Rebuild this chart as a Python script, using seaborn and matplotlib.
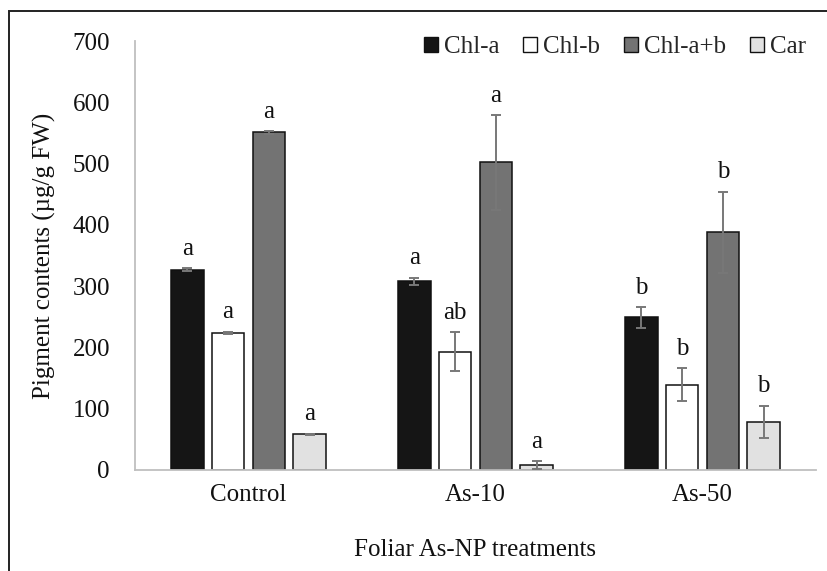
import matplotlib
matplotlib.use("Agg")
import matplotlib.pyplot as plt
import matplotlib.patches as mpatches
import seaborn as sns
import pandas as pd
import numpy as np

# ---- data ----
treatments = ["Control", "As-10", "As-50"]
pigments = ["Chl-a", "Chl-b", "Chl-a+b", "Car"]
chl_a = [327, 308, 249]
chl_b = [224, 193, 139]
chl_ab = [551, 502, 388]
car = [58, 8, 79]
err_chl_a = [2, 6, 17]
err_chl_b = [1.5, 32, 27]
err_chl_ab = [2, 77, 66]
err_car = [1.5, 6, 26]
letters_chl_a = ["a", "a", "b"]
letters_chl_b = ["a", "ab", "b"]
letters_chl_ab = ["a", "a", "b"]
letters_car = ["a", "a", "b"]
colors = ["#151515", "#ffffff", "#737373", "#e1e1e1"]
yticks = [0, 100, 200, 300, 400, 500, 600, 700]

values = [chl_a, chl_b, chl_ab, car]
errors = [err_chl_a, err_chl_b, err_chl_ab, err_car]
letters = [letters_chl_a, letters_chl_b, letters_chl_ab, letters_car]

rows = []
for p, v in zip(pigments, values):
    for t, val in zip(treatments, v):
        rows.append({"Treatment": t, "Pigment": p, "Value": val})
df = pd.DataFrame(rows)

sns.set_style("white")
plt.rcParams["font.family"] = ["Liberation Serif", "DejaVu Serif"]

FS = 18

fig = plt.figure(figsize=(8.28, 5.71), dpi=100)
ax = fig.add_axes([135 / 828, 1 - 470 / 571, (816 - 135) / 828, (470 - 41) / 571])

sns.barplot(data=df, x="Treatment", y="Value", hue="Pigment", order=treatments,
            hue_order=pigments, palette=colors, width=0.72, gap=0.2,
            errorbar=None, edgecolor="#111111", linewidth=1.1, ax=ax,
            saturation=1)

bar_containers = list(ax.containers)
# error bars & letters from bar containers
for ci, cont in enumerate(bar_containers):
    for bi, bar in enumerate(cont.patches):
        xc = bar.get_x() + bar.get_width() / 2
        h = bar.get_height()
        e = errors[ci][bi]
        ax.errorbar(xc, h, yerr=e, fmt="none", ecolor="#787878",
                    elinewidth=1.4, capsize=3.6, capthick=1.4, zorder=5)
        ax.annotate(letters[ci][bi], (xc, h + e), xytext=(0, 6),
                    textcoords="offset points", ha="center", va="bottom",
                    fontsize=FS, color="#111111")

ax.set_xlim(-0.5, 2.5)
ax.set_ylim(0, 700)
ax.set_yticks(yticks)
ax.set_yticklabels([str(t) for t in yticks])
ax.tick_params(axis="y", length=0, pad=18, labelsize=FS, colors="#111111")
ax.tick_params(axis="x", length=0, pad=10, labelsize=FS, colors="#111111")

for s in ["top", "right"]:
    ax.spines[s].set_visible(False)
for s in ["left", "bottom"]:
    ax.spines[s].set_color("#bfbfbf")
    ax.spines[s].set_linewidth(1.3)

ax.set_ylabel("Pigment contents (µg/g FW)", fontsize=FS, color="#111111")
ax.set_xlabel("Foliar As-NP treatments", fontsize=FS, color="#111111")
ax.yaxis.set_label_coords(-0.116, 0.5)
ax.xaxis.set_label_coords(0.5, -0.161)

# legend
handles = [mpatches.Patch(facecolor=c, edgecolor="#111111", linewidth=1.0) for c in colors]
if ax.get_legend() is not None:
    ax.get_legend().remove()
leg = fig.legend(handles, pigments, loc="center left", bbox_to_anchor=(424 / 828, 1 - 47 / 571),
                 ncol=4, frameon=False, fontsize=FS, handlelength=0.55, handleheight=0.55,
                 handletextpad=0.25, columnspacing=0.95, borderaxespad=0, borderpad=0)

# outer border
fig.patches.append(mpatches.Rectangle((9 / 828, -0.1), 1.5, 1 - 11 / 571 + 0.1,
                                      transform=fig.transFigure, fill=False,
                                      edgecolor="#222222", linewidth=1.4))

fig.savefig("out.png", dpi=100)
